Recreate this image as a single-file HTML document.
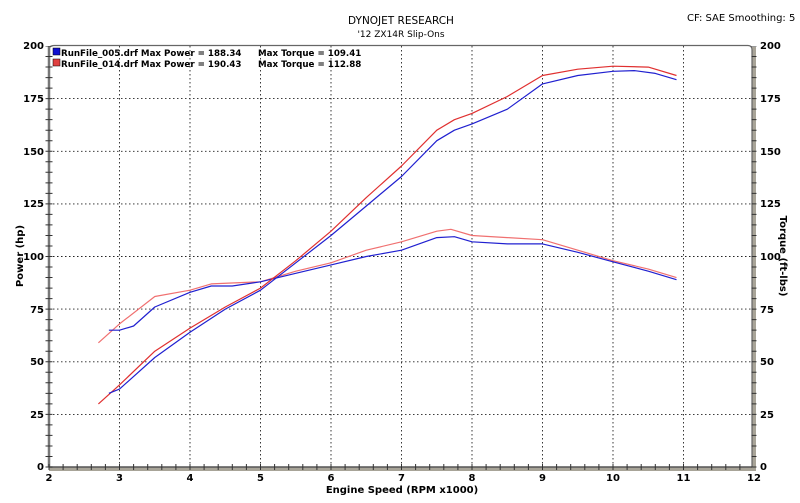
<!DOCTYPE html>
<html><head><meta charset="utf-8"><style>
body{margin:0;background:#fff;}
svg{display:block;font-family:"DejaVu Sans","Liberation Sans",sans-serif;}
.t{font-size:10px;font-weight:bold;fill:#000}
.l{font-size:8.7px;font-weight:bold;fill:#000}
</style></head><body>
<svg width="800" height="503" viewBox="0 0 800 503" xmlns="http://www.w3.org/2000/svg">
<rect width="800" height="503" fill="#fff"/>
<g stroke="#222" stroke-width="0.9" stroke-dasharray="1.5,2.5">
<line x1="119.5" y1="46" x2="119.5" y2="467"/><line x1="190" y1="46" x2="190" y2="467"/>
<line x1="260.5" y1="46" x2="260.5" y2="467"/><line x1="331" y1="46" x2="331" y2="467"/>
<line x1="401.5" y1="46" x2="401.5" y2="467"/><line x1="472" y1="46" x2="472" y2="467"/>
<line x1="542.5" y1="46" x2="542.5" y2="467"/><line x1="613" y1="46" x2="613" y2="467"/>
<line x1="683.5" y1="46" x2="683.5" y2="467"/>
<line x1="49" y1="414.4" x2="752" y2="414.4"/><line x1="49" y1="361.8" x2="752" y2="361.8"/>
<line x1="49" y1="309.1" x2="752" y2="309.1"/><line x1="49" y1="256.5" x2="752" y2="256.5"/>
<line x1="49" y1="203.9" x2="752" y2="203.9"/><line x1="49" y1="151.3" x2="752" y2="151.3"/>
<line x1="49" y1="98.6" x2="752" y2="98.6"/>
</g>
<rect x="49" y="467" width="707" height="4" fill="#a8a498"/>
<rect x="752" y="47" width="4" height="424" fill="#a8a498"/>
<path d="M49,467 V50 Q49,45.5 54,45.5 H748 Q752,45.5 752,50 V467" fill="none" stroke="#666" stroke-width="1.2"/>
<line x1="49" y1="46" x2="49" y2="467" stroke="#777" stroke-width="2.5"/>
<line x1="49" y1="467" x2="752" y2="467" stroke="#555" stroke-width="1.5"/>
<line x1="49" y1="467.5" x2="49" y2="46" stroke="#333" stroke-width="7" stroke-dasharray="1,9.525"/>
<line x1="754" y1="467.5" x2="754" y2="46" stroke="#333" stroke-width="5" stroke-dasharray="1,9.525"/>
<line x1="48.5" y1="467" x2="752" y2="467" stroke="#333" stroke-width="6" stroke-dasharray="1,13.1"/>
<g fill="none" stroke-width="1.2" stroke-linejoin="round">
<polyline stroke="#f07070" points="98.4,342.8 119.5,323.9 154.8,296.5 190,290.2 211.2,283.9 260.5,281.8 295.8,271.2 331,262.8 366.3,250.2 401.5,241.8 436.8,231.2 450.9,229.3 472,235.5 507.3,237.6 542.5,239.7 577.8,250.2 613,260.7 648.3,269.1 676.5,277.6"/>
<polyline stroke="#2020d0" points="108.9,330.2 119.5,330.2 133.6,326 154.8,307 190,292.3 211.2,286 232.3,286 260.5,281.8 295.8,273.3 331,264.9 366.3,256.5 401.5,250.2 436.8,237.6 454.4,236.7 472,241.8 507.3,243.9 542.5,243.9 577.8,252.3 613,261.8 648.3,271.2 676.5,279.7"/>
<polyline stroke="#e03030" points="98.4,403.9 119.5,384.9 154.8,351.2 190,328.1 225.3,307 260.5,288.1 295.8,260.7 331,231.2 366.3,197.6 401.5,166 436.8,130.2 454.4,119.7 472,113.4 507.3,96.5 542.5,75.5 577.8,69.2 613,66.2 648.3,67.1 676.5,75.5"/>
<polyline stroke="#2020d0" points="108.9,393.3 119.5,389.1 154.8,357.5 190,332.3 225.3,309.1 260.5,290.2 295.8,262.8 331,235.5 366.3,206 401.5,176.5 436.8,140.7 454.4,130.2 472,123.9 507.3,109.2 542.5,83.9 577.8,75.5 613,71.3 634.2,70.6 655.3,73.4 676.5,79.7"/>
</g>
<text x="401" y="24" font-size="10.5" text-anchor="middle" fill="#000">DYNOJET RESEARCH</text>
<text x="401" y="37" font-size="9" text-anchor="middle" fill="#000">'12 ZX14R Slip-Ons</text>
<text x="687" y="21" font-size="10" fill="#000">CF: SAE  Smoothing: 5</text>
<rect x="53" y="48" width="7" height="7" fill="#1010d0" stroke="#000" stroke-width="0.5"/>
<rect x="53" y="59" width="7" height="7" fill="#e04040" stroke="#000" stroke-width="0.5"/>
<text x="61" y="56" class="l">RunFile_005.drf Max Power = 188.34</text>
<text x="258" y="56" class="l">Max Torque = 109.41</text>
<text x="61" y="67" class="l">RunFile_014.drf Max Power = 190.43</text>
<text x="258" y="67" class="l">Max Torque = 112.88</text>
<g class="t" text-anchor="end">
<text x="44" y="49">200</text><text x="44" y="102">175</text><text x="44" y="155">150</text>
<text x="44" y="207">125</text><text x="44" y="260">100</text><text x="44" y="313">75</text>
<text x="44" y="365">50</text><text x="44" y="418">25</text><text x="44" y="470">0</text>
</g>
<g class="t">
<text x="760" y="49">200</text><text x="760" y="102">175</text><text x="760" y="155">150</text>
<text x="760" y="207">125</text><text x="760" y="260">100</text><text x="760" y="313">75</text>
<text x="760" y="365">50</text><text x="760" y="418">25</text><text x="760" y="470">0</text>
</g>
<g class="t" text-anchor="middle">
<text x="49" y="481">2</text><text x="119.5" y="481">3</text><text x="190" y="481">4</text>
<text x="260.5" y="481">5</text><text x="331" y="481">6</text><text x="401.5" y="481">7</text>
<text x="472" y="481">8</text><text x="542.5" y="481">9</text><text x="613" y="481">10</text>
<text x="683.5" y="481">11</text><text x="754" y="481">12</text>
</g>
<text x="402" y="493" class="t" text-anchor="middle">Engine Speed (RPM x1000)</text>
<text transform="translate(23,256) rotate(-90)" class="t" text-anchor="middle">Power (hp)</text>
<text transform="translate(780,256) rotate(90)" class="t" text-anchor="middle">Torque (ft-lbs)</text>
</svg>
</body></html>
